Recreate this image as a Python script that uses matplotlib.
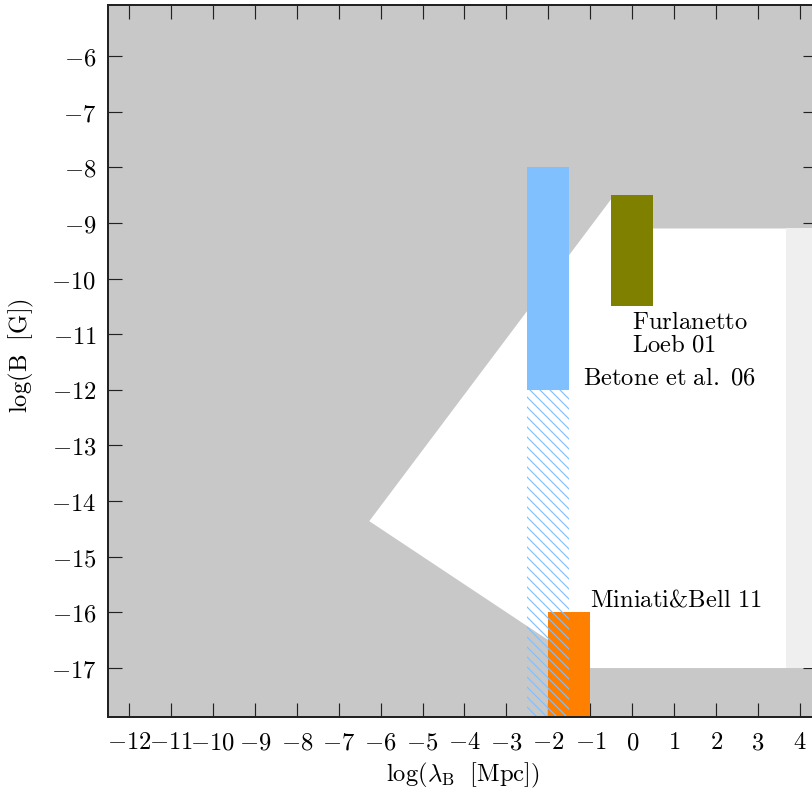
import matplotlib
matplotlib.use("Agg")
import matplotlib.pyplot as plt
from matplotlib.patches import Rectangle, Polygon

plt.rcParams['mathtext.fontset'] = 'cm'
plt.rcParams['hatch.linewidth'] = 0.7

# ---- data (log lambda_B [Mpc], log B [G]) ----
xlim = (-12.5, 4.4)
ylim = (-17.88, -5.08)
xticks = list(range(-12, 5))
yticks = list(range(-17, -5))

# allowed (white) region polygon
allowed_x = [-6.27, -0.5, 0.5, 4.4, 4.4, -1.0]
allowed_y = [-14.36, -8.57, -9.1, -9.1, -17.0, -17.0]
# light-gray region on the right
light_x = [3.67, 4.4]
light_y = [-17.0, -9.1]

# measurement boxes: x range, y range
betone_x = [-2.5, -1.5]
betone_y = [-12.0, -8.0]
betone_hatch_y = [-17.88, -12.0]
furl_x = [-0.5, 0.5]
furl_y = [-10.5, -8.5]
miniati_x = [-2.0, -1.0]
miniati_y = [-17.88, -16.0]

labels = {
    'furl1': ('Furlanetto', 0.0, -10.91),
    'furl2': ('Loeb 01', 0.0, -11.31),
    'betone': ('Betone et al. 06', -1.18, -11.91),
    'miniati': ('Miniati&Bell 11', -1.0, -15.90),
}

FS = 14.8

# ---- figure ----
dpi = 120
fig = plt.figure(figsize=(812 / dpi, 796 / dpi), dpi=dpi)
ax = fig.add_axes([108 / 812, 79 / 796, 708.8 / 812, 712.2 / 796])
ax.set_xlim(*xlim)
ax.set_ylim(*ylim)

ax.set_facecolor('#c8c8c8')
ax.add_patch(Polygon(list(zip(allowed_x, allowed_y)), closed=True,
                     facecolor='white', edgecolor='none', zorder=1))
ax.add_patch(Rectangle((light_x[0], light_y[0]), light_x[1] - light_x[0],
                       light_y[1] - light_y[0], facecolor='#efefef',
                       edgecolor='none', zorder=2))
ax.add_patch(Rectangle((betone_x[0], betone_y[0]), betone_x[1] - betone_x[0],
                       betone_y[1] - betone_y[0], facecolor='#80c0ff',
                       edgecolor='none', zorder=3))
ax.add_patch(Rectangle((miniati_x[0], miniati_y[0]), miniati_x[1] - miniati_x[0],
                       miniati_y[1] - miniati_y[0], facecolor='#ff8000',
                       edgecolor='none', zorder=4))
ax.add_patch(Rectangle((betone_x[0], betone_hatch_y[0]), betone_x[1] - betone_x[0],
                       betone_hatch_y[1] - betone_hatch_y[0], fill=False,
                       hatch='\\\\\\\\', edgecolor='#80c0ff', linewidth=0, zorder=5))
ax.add_patch(Rectangle((furl_x[0], furl_y[0]), furl_x[1] - furl_x[0],
                       furl_y[1] - furl_y[0], facecolor='#808000',
                       edgecolor='none', zorder=6))

for key, (txt, x, y) in labels.items():
    t = txt.replace(' ', r'\ ')
    ax.text(x, y, r'$\mathrm{' + t + '}$', fontsize=FS, ha='left',
            va='baseline', zorder=7)

ax.set_xticks(xticks)
ax.set_yticks(yticks)
ax.set_xticklabels([r'$%d$' % v for v in xticks])
ax.set_yticklabels([r'$%d$' % v for v in yticks])
ax.tick_params(axis='both', which='major', direction='in', length=8.4,
               width=0.7, top=True, right=True, labelsize=FS, color='#222222')
ax.tick_params(axis='x', pad=8)
ax.tick_params(axis='y', pad=7)
for s in ax.spines.values():
    s.set_linewidth(1.2)
    s.set_color('#222222')
    s.set_zorder(10)

fig.text(463 / 812, 1 - 775 / 796, r'$\mathrm{log}(\lambda_{\mathrm{B}}\ \ [\mathrm{Mpc}])$',
         fontsize=FS, ha='center', va='center')
fig.text(21 / 812, 1 - 355 / 796, r'$\mathrm{log(B\ \ [G])}$',
         fontsize=FS, ha='center', va='center', rotation=90)

fig.savefig('out.png', dpi=dpi)
